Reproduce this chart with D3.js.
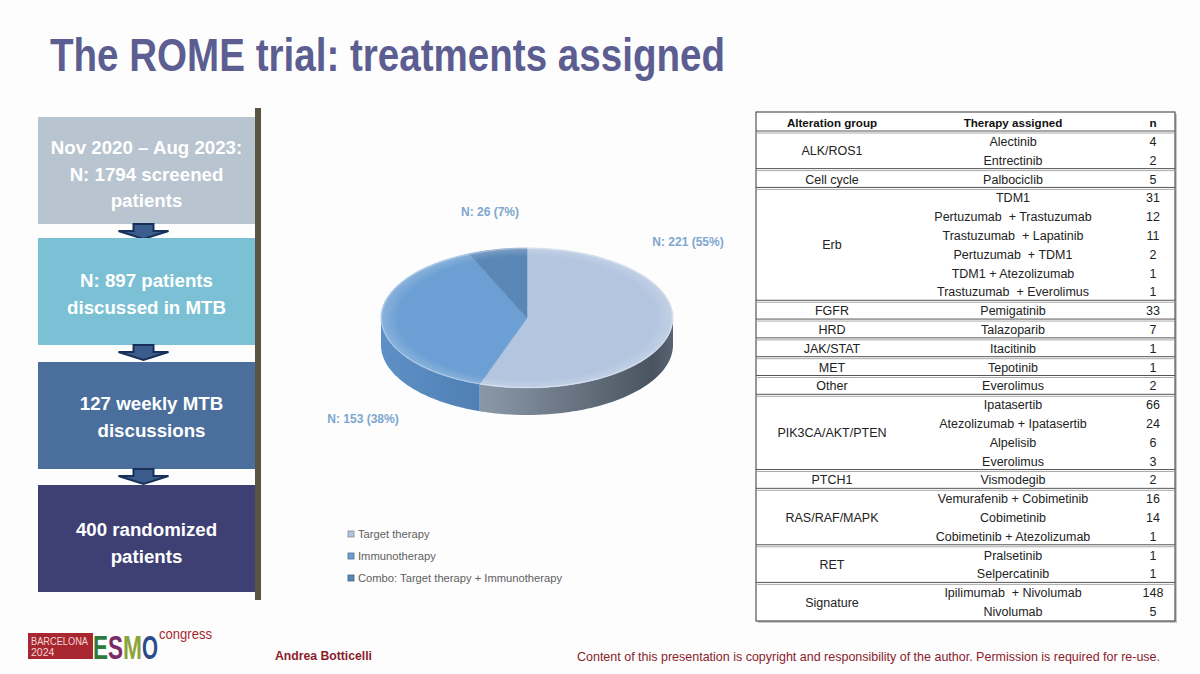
<!DOCTYPE html>
<html>
<head>
<meta charset="utf-8">
<script src="https://cdn.jsdelivr.net/npm/d3@7/dist/d3.min.js"></script>
<style>
  html, body { margin: 0; padding: 0; background: #fff; }
  svg { display: block; font-family: "Liberation Sans", Arial, sans-serif; }
  .pre { white-space: pre; }
</style>
</head>
<body>
<svg id="slide" width="1200" height="674"></svg>
<script>
// ---- data ----
const flowLines = [
  ["Nov 2020 \u2013 Aug 2023:", "N: 1794 screened", "patients"],
  ["N: 897 patients", "discussed in MTB"],
  ["127 weekly MTB", "discussions"],
  ["400 randomized", "patients"]
];

const pieCategories = ["Target therapy", "Immunotherapy", "Combo: Target therapy + Immunotherapy"];
const pieValues = [221, 153, 26];

const tableHeader = ["Alteration group", "Therapy assigned", "n"];
const tableGroups = [
  "ALK/ROS1", "ALK/ROS1", "Cell cycle",
  "Erb", "Erb", "Erb", "Erb", "Erb", "Erb",
  "FGFR", "HRD", "JAK/STAT", "MET", "Other",
  "PIK3CA/AKT/PTEN", "PIK3CA/AKT/PTEN", "PIK3CA/AKT/PTEN", "PIK3CA/AKT/PTEN",
  "PTCH1",
  "RAS/RAF/MAPK", "RAS/RAF/MAPK", "RAS/RAF/MAPK",
  "RET", "RET", "Signature", "Signature"
];
const tableTherapies = [
  "Alectinib", "Entrectinib", "Palbociclib",
  "TDM1", "Pertuzumab  + Trastuzumab", "Trastuzumab  + Lapatinib",
  "Pertuzumab  + TDM1", "TDM1 + Atezolizumab", "Trastuzumab  + Everolimus",
  "Pemigatinib", "Talazoparib", "Itacitinib", "Tepotinib", "Everolimus",
  "Ipatasertib", "Atezolizumab + Ipatasertib", "Alpelisib", "Everolimus",
  "Vismodegib",
  "Vemurafenib + Cobimetinib", "Cobimetinib", "Cobimetinib + Atezolizumab",
  "Pralsetinib", "Selpercatinib", "Ipilimumab  + Nivolumab", "Nivolumab"
];
const tableCounts = [4, 2, 5, 31, 12, 11, 2, 1, 1, 33, 7, 1, 1, 2, 66, 24, 6, 3, 2, 16, 14, 1, 1, 1, 148, 5];

// ---- styles ----
const flowColors = ["#b8c4d0", "#7bc0d4", "#4b6f9c", "#3e3f73"];
const sliceTop = ["#b3c5df", "#6c9fd3", "#5a87b6"];
const sliceSide = [["#a6b2c0", "#8592a1", "#4a5460"], ["#5e90c6", "#4d7db1", "#3d6690"], ["#4b749e", "#3f6388", "#33506e"]];
const narrow = '"Liberation Sans Narrow", "Arial Narrow", "Liberation Sans", Arial, sans-serif';

const svg = d3.select("#slide");
svg.append("rect").attr("width", 1200).attr("height", 674).attr("fill", "#fdfdfd");

// ---- title ----
svg.append("text")
  .attr("x", 50).attr("y", 71)
  .attr("font-size", 46).attr("font-weight", "bold")
  .attr("fill", "#5c5e92")
  .attr("textLength", 675).attr("lengthAdjust", "spacingAndGlyphs")
  .text("The ROME trial: treatments assigned");

// ---- flow column ----
const flowX = 38, flowW = 217;
const flowTops = [117, 238, 362, 485];
const flowH = 107;
const textShift = [3, 2, 1, 4];
const flow = svg.append("g");

flow.append("rect")
  .attr("x", 255).attr("y", 108).attr("width", 6).attr("height", 492)
  .attr("fill", "#5b5446");

flowLines.forEach((lines, i) => {
  flow.append("rect")
    .attr("x", flowX).attr("y", flowTops[i])
    .attr("width", flowW).attr("height", flowH)
    .attr("fill", flowColors[i]);
  const lh = 26.5;
  const mid = flowTops[i] + flowH / 2 + textShift[i];
  const cxText = flowX + flowW / 2 + (i === 2 ? 5 : 0);
  lines.forEach((t, j) => {
    flow.append("text")
      .attr("x", cxText)
      .attr("y", mid + (j - (lines.length - 1) / 2) * lh + 7)
      .attr("text-anchor", "middle")
      .attr("font-size", 18.7).attr("font-weight", "bold")
      .attr("fill", "#fff")
      .text(t);
  });
  if (i < flowLines.length - 1) {
    const ax = flowX + flowW / 2 - 3, top = flowTops[i] + flowH;
    const arrow = [[ax - 10, top], [ax + 10, top], [ax + 10, top + 7], [ax + 25, top + 7],
                   [ax, top + 15], [ax - 25, top + 7], [ax - 10, top + 7]];
    flow.append("path")
      .attr("d", d3.line()(arrow) + "Z")
      .attr("fill", "#3b5c8c").attr("stroke", "#17305a").attr("stroke-width", 2)
      .attr("stroke-linejoin", "miter");
  }
});

// ---- 3D pie ----
const cx = 527, cy = 318, rx = 146, ry = 70, depth = 27;
const total = d3.sum(pieValues);
const arcs = d3.pie().sort(null).startAngle(0).endAngle(2 * Math.PI)(pieValues);
const px = a => cx + rx * Math.sin(a);
const py = a => cy - ry * Math.cos(a);
const defs = svg.append("defs");

sliceSide.forEach((stops, i) => {
  const g = defs.append("linearGradient")
    .attr("id", "side" + i).attr("gradientUnits", "userSpaceOnUse")
    .attr("x1", cx - rx).attr("x2", cx + rx).attr("y1", 0).attr("y2", 0);
  g.append("stop").attr("offset", 0).attr("stop-color", stops[0]);
  g.append("stop").attr("offset", 0.4).attr("stop-color", stops[1]);
  g.append("stop").attr("offset", 0.93).attr("stop-color", stops[2]);
  g.append("stop").attr("offset", 1).attr("stop-color", d3.color(stops[2]).brighter(0.5));
});
const topGrad = defs.append("radialGradient").attr("id", "topShade")
  .attr("cx", 0.5).attr("cy", 0.5).attr("r", 0.5);
topGrad.append("stop").attr("offset", 0.88).attr("stop-color", "#fff").attr("stop-opacity", 0);
topGrad.append("stop").attr("offset", 1).attr("stop-color", "#fff").attr("stop-opacity", 0.2);

function arcPoints(a0, a1, dy) {
  const n = Math.max(2, Math.ceil((a1 - a0) / 0.02));
  return d3.range(n + 1).map(k => {
    const a = a0 + (a1 - a0) * k / n;
    return [px(a), py(a) + dy];
  });
}

const pie = svg.append("g");
// outer walls on the front half
arcs.forEach((d, i) => {
  const a0 = Math.max(d.startAngle, Math.PI / 2);
  const a1 = Math.min(d.endAngle, 3 * Math.PI / 2);
  if (a1 <= a0) return;
  const pts = arcPoints(a0, a1, 0).concat(arcPoints(a0, a1, depth).reverse());
  pie.append("path")
    .attr("d", d3.line()(pts) + "Z")
    .attr("fill", "url(#side" + i + ")");
});
// top faces
arcs.forEach((d, i) => {
  const pts = [[cx, cy]].concat(arcPoints(d.startAngle, d.endAngle, 0));
  pie.append("path")
    .attr("d", d3.line()(pts) + "Z")
    .attr("fill", sliceTop[i])
    .attr("stroke", sliceTop[i]).attr("stroke-width", 0.5);
});
pie.append("ellipse")
  .attr("cx", cx).attr("cy", cy).attr("rx", rx).attr("ry", ry)
  .attr("fill", "url(#topShade)");
pie.append("ellipse")
  .attr("cx", cx).attr("cy", cy).attr("rx", rx - 0.5).attr("ry", ry - 0.5)
  .attr("fill", "none").attr("stroke", "#fff").attr("stroke-opacity", 0.35).attr("stroke-width", 1);

// data labels
const labelOffset = [[161, -72], [-164, 105], [-37, -102]];
arcs.forEach((d, i) => {
  pie.append("text")
    .attr("x", cx + labelOffset[i][0]).attr("y", cy + labelOffset[i][1])
    .attr("text-anchor", "middle")
    .attr("font-size", 12).attr("font-weight", "bold")
    .attr("fill", "#7ea7cf")
    .text("N: " + d.data + " (" + Math.round(d.data / total * 100) + "%)");
});

// legend
const legendY = d3.scalePoint().domain(pieCategories).range([534, 578]);
const legend = svg.append("g");
pieCategories.forEach((c, i) => {
  const y = legendY(c);
  legend.append("rect")
    .attr("x", 348).attr("y", y - 3).attr("width", 6).attr("height", 6)
    .attr("fill", sliceTop[i]).attr("stroke", d3.color(sliceTop[i]).darker(1)).attr("stroke-width", 0.8);
  legend.append("text")
    .attr("x", 358).attr("y", y + 4)
    .attr("font-size", 11.2).attr("fill", "#606060")
    .text(c);
});

// ---- table ----
const tLeft = 756, tRight = 1175, tTop = 112, hBottom = 132, tBottom = 621;
const colX = [832, 1013, 1153];
const rowY = d3.scaleBand().domain(d3.range(tableTherapies.length)).range([hBottom, tBottom]);
const table = svg.append("g");

table.append("rect")
  .attr("x", tLeft + 2).attr("y", tTop + 2).attr("width", tRight - tLeft).attr("height", tBottom - tTop)
  .attr("fill", "#c8c8c8");
table.append("rect")
  .attr("x", tLeft).attr("y", tTop).attr("width", tRight - tLeft).attr("height", tBottom - tTop)
  .attr("fill", "#fff").attr("stroke", "#333").attr("stroke-width", 1);

tableHeader.forEach((h, j) => {
  table.append("text")
    .attr("x", colX[j]).attr("y", (tTop + hBottom) / 2 + 4.5)
    .attr("text-anchor", "middle")
    .attr("font-size", 11.6).attr("font-weight", "bold").attr("fill", "#111")
    .text(h);
});

function sepLine(y) {
  table.append("line").attr("x1", tLeft).attr("x2", tRight).attr("y1", y - 1).attr("y2", y - 1)
    .attr("stroke", "#555").attr("stroke-width", 1);
  table.append("line").attr("x1", tLeft).attr("x2", tRight).attr("y1", y + 1).attr("y2", y + 1)
    .attr("stroke", "#aaa").attr("stroke-width", 1);
}
sepLine(hBottom);

// group spans
const spans = [];
tableGroups.forEach((g, i) => {
  if (i === 0 || g !== tableGroups[i - 1]) spans.push({ name: g, start: i, end: i });
  else spans[spans.length - 1].end = i;
});
spans.forEach((s, k) => {
  if (k > 0) sepLine(rowY(s.start));
  const yMid = (rowY(s.start) + rowY(s.end) + rowY.bandwidth()) / 2;
  table.append("text")
    .attr("x", colX[0]).attr("y", yMid + 4.5)
    .attr("text-anchor", "middle")
    .attr("font-size", 12.5).attr("fill", "#222")
    .text(s.name);
});

tableTherapies.forEach((t, i) => {
  const y = rowY(i) + rowY.bandwidth() / 2 + 4.5;
  table.append("text")
    .attr("class", "pre")
    .attr("x", colX[1]).attr("y", y)
    .attr("text-anchor", "middle")
    .attr("font-size", 12.5).attr("fill", "#222")
    .text(t);
  table.append("text")
    .attr("x", colX[2]).attr("y", y)
    .attr("text-anchor", "middle")
    .attr("font-size", 12.5).attr("fill", "#222")
    .text(tableCounts[i]);
});

// ---- footer ----
const foot = svg.append("g");
foot.append("rect").attr("x", 28).attr("y", 633).attr("width", 65).attr("height", 26).attr("fill", "#a82630");
foot.append("text").attr("x", 31).attr("y", 644.5).attr("font-size", 10.5).attr("fill", "#f3d6d8")
  .attr("font-family", narrow).attr("textLength", 57).attr("lengthAdjust", "spacingAndGlyphs").text("BARCELONA");
foot.append("text").attr("x", 31).attr("y", 655.5).attr("font-size", 10.5).attr("fill", "#f3d6d8")
  .attr("font-family", narrow).text("2024");

// ESMO letters: each squeezed to its slot so the boxes just touch
const esmo = [["E", "#2f7b3b", 15], ["S", "#7b2b63", 15], ["M", "#8aa63b", 19], ["O", "#2b4b87", 16]];
let lx = 93;
esmo.forEach(e => {
  const t = foot.append("text")
    .attr("font-size", 24).attr("font-weight", "bold").attr("fill", e[1])
    .text(e[0]);
  const w = t.node().getComputedTextLength();
  t.attr("transform", "translate(" + lx + ",659) scale(" + (e[2] / w) + ",1.42)");
  lx += e[2];
});
foot.append("text").attr("x", 159).attr("y", 639).attr("font-size", 14).attr("fill", "#a82630")
  .attr("font-family", narrow).attr("textLength", 53).attr("lengthAdjust", "spacingAndGlyphs").text("congress");

foot.append("text").attr("x", 275).attr("y", 660).attr("font-size", 13).attr("font-weight", "bold")
  .attr("fill", "#8a1c2c").attr("textLength", 97).attr("lengthAdjust", "spacingAndGlyphs")
  .text("Andrea Botticelli");
foot.append("text").attr("x", 577).attr("y", 661).attr("font-size", 13)
  .attr("fill", "#8a1c2c").attr("textLength", 583).attr("lengthAdjust", "spacingAndGlyphs")
  .text("Content of this presentation is copyright and responsibility of the author. Permission is required for re-use.");
</script>
</body>
</html>
